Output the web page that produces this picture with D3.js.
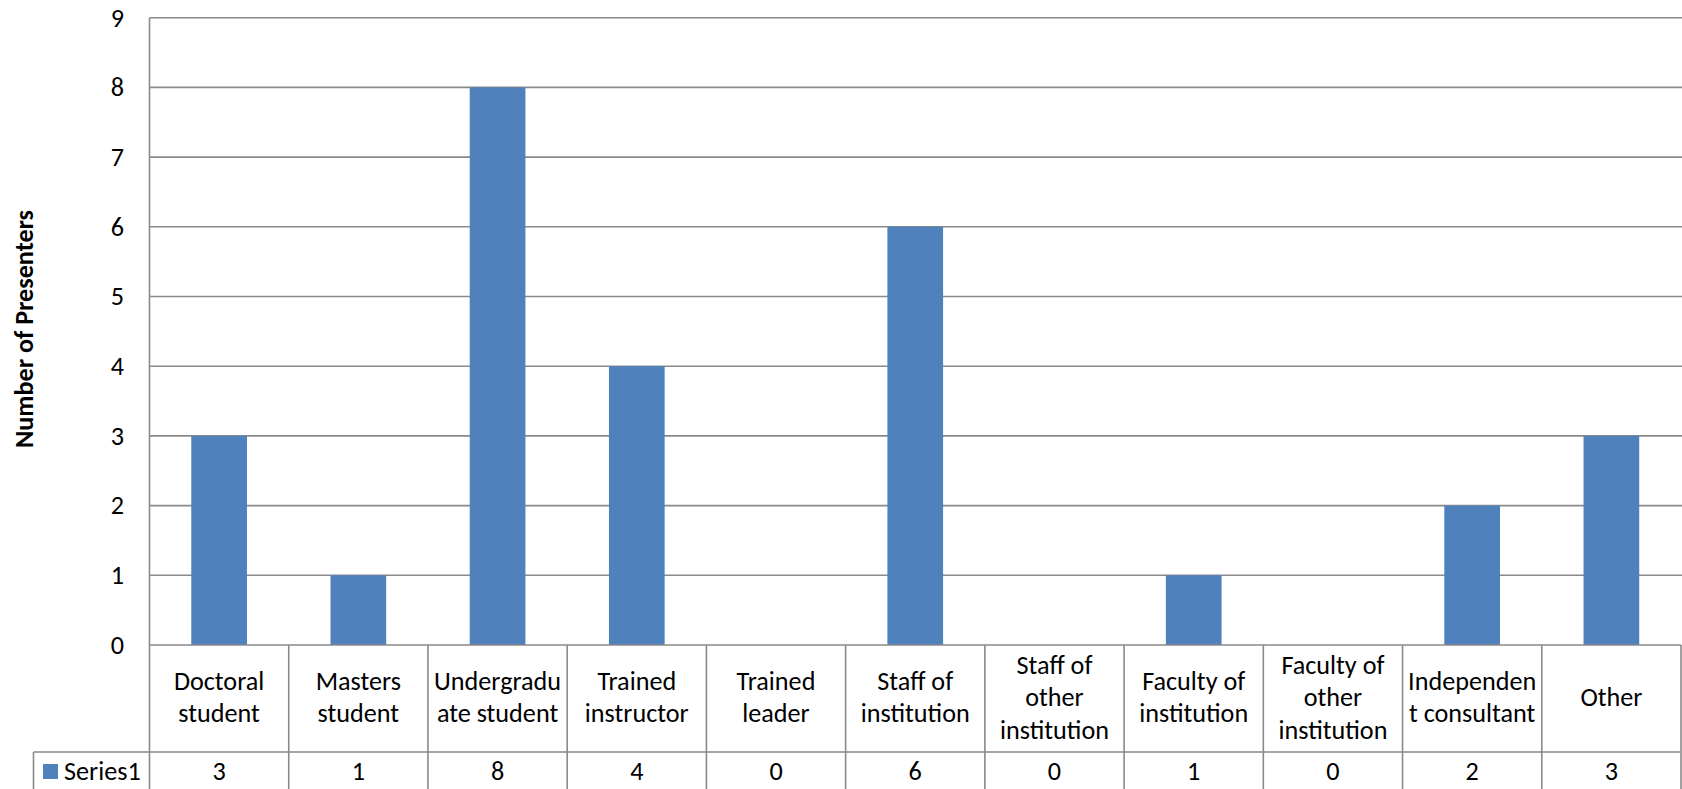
<!DOCTYPE html>
<html><head><meta charset="utf-8">
<script src="https://cdn.jsdelivr.net/npm/d3@7"></script>
<style>body{margin:0;background:#fff} svg{display:block}</style>
</head><body><svg id="c" width="1682" height="789"></svg>
<script>
const categories = [["Doctoral","student"],["Masters","student"],["Undergradu","ate student"],["Trained","instructor"],["Trained","leader"],["Staff of","institution"],["Staff of","other","institution"],["Faculty of","institution"],["Faculty of","other","institution"],["Independen","t consultant"],["Other"]];
const series1 = [3,1,8,4,0,6,0,1,0,2,3];
const seriesName = "Series1";
const yTicks = [0,1,2,3,4,5,6,7,8,9];
const yTitle = "Number of Presenters";

(function () {
const FONT = "Carlito, Calibri, Lato, 'Open Sans', sans-serif";
const svg = d3.select("#c");
const W = 1682;
const pLeft = 149.5, pRight = 1681, pTop = 17.7, base = 645, rowY = 752, bottom = 795, tableLeft = 33.5;
const GRID = "#8a8a8a", BAR = "#4f81bd";

function measure(txt, weight) {
  const p = svg.append("text").attr("font-family", FONT).attr("font-size", 100)
    .attr("font-weight", weight).text(txt);
  const w = p.node().getComputedTextLength();
  p.remove();
  return w;
}
const FS = Math.min(27, 100 * 109 / measure("institution", "normal"));
const TFS = Math.min(30, 100 * 238 / measure(yTitle, "bold"));

const keys = categories.map((c, i) => i);
const x = d3.scaleBand().domain(keys).range([pLeft, pRight]).paddingInner(0.6).paddingOuter(0.3);
const xc = d3.scaleBand().domain(keys).range([pLeft, pRight]).padding(0);
const y = d3.scaleLinear().domain([0, 9]).range([base, pTop]);

// gridlines
svg.append("g").selectAll("line").data(yTicks.filter(t => t > 0)).join("line")
  .attr("x1", pLeft).attr("x2", W).attr("y1", d => y(d)).attr("y2", d => y(d))
  .attr("stroke", GRID).attr("stroke-width", 1.6);

// bars
svg.append("g").selectAll("rect").data(series1).join("rect")
  .attr("x", (d, i) => x(i)).attr("width", x.bandwidth())
  .attr("y", d => y(d)).attr("height", d => y(0) - y(d))
  .attr("fill", BAR);

// axis and table lines
const g = svg.append("g").attr("stroke", GRID).attr("stroke-width", 1.6);
g.append("line").attr("x1", pLeft).attr("x2", pLeft).attr("y1", pTop).attr("y2", bottom);
g.append("line").attr("x1", pLeft).attr("x2", pRight).attr("y1", base).attr("y2", base);
g.append("line").attr("x1", tableLeft).attr("x2", pRight).attr("y1", rowY).attr("y2", rowY);
g.append("line").attr("x1", tableLeft).attr("x2", tableLeft).attr("y1", rowY).attr("y2", bottom);
g.selectAll(".div").data(keys).join("line").attr("class", "div")
  .attr("x1", d => xc(d) + xc.bandwidth()).attr("x2", d => xc(d) + xc.bandwidth())
  .attr("y1", base).attr("y2", bottom);

// y tick labels
svg.append("g").selectAll("text").data(yTicks).join("text")
  .attr("x", 124).attr("y", d => y(d) + 8.8).attr("text-anchor", "end")
  .attr("font-family", FONT).attr("font-size", FS).attr("fill", "#000").text(d => d);

// y title
svg.append("text").attr("transform", "translate(33,329) rotate(-90)")
  .attr("text-anchor", "middle").attr("font-family", FONT).attr("font-weight", "bold")
  .attr("font-size", TFS).attr("fill", "#000").text(yTitle);

// category labels
const cl = svg.append("g").attr("font-family", FONT).attr("font-size", FS).attr("text-anchor", "middle");
categories.forEach((lines, i) => {
  const cx = xc(i) + xc.bandwidth() / 2;
  lines.forEach((ln, k) => {
    cl.append("text").attr("x", cx).attr("y", 706 + (k - (lines.length - 1) / 2) * 32.5).text(ln);
  });
});

// data table row
const dt = svg.append("g").attr("font-family", FONT).attr("font-size", FS);
dt.append("rect").attr("x", 43).attr("y", 764).attr("width", 15).attr("height", 15).attr("fill", BAR);
dt.append("text").attr("x", 64).attr("y", 780).text(seriesName);
dt.selectAll(".v").data(series1).join("text").attr("class", "v")
  .attr("x", (d, i) => xc(i) + xc.bandwidth() / 2).attr("y", 780)
  .attr("text-anchor", "middle").text(d => d);
})();
</script>
</body></html>
